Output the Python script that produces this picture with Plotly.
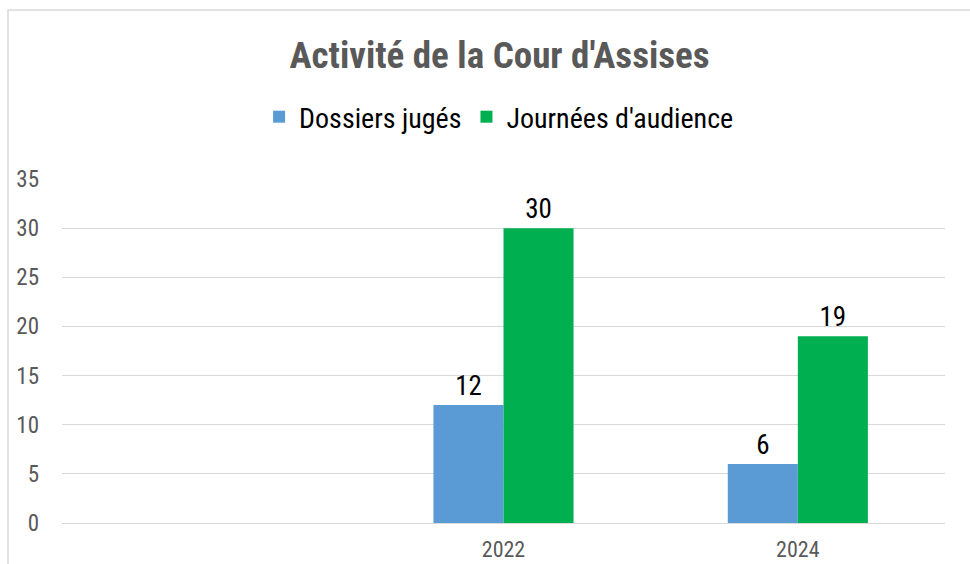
import plotly.graph_objects as go

categories = ["", "2022", "2024"]
dossiers = [None, 12, 6]
journees = [None, 30, 19]
series_names = ["Dossiers jugés", "Journées d'audience"]
colors = ["#5B9BD5", "#00B050"]
y_ticks = [0, 5, 10, 15, 20, 25, 30, 35]

FONT = "Roboto Condensed, Liberation Sans Narrow, Roboto, sans-serif"
x_pos = list(range(len(categories)))

fig = go.Figure()
for name, vals, col in zip(series_names, [dossiers, journees], colors):
    fig.add_trace(go.Bar(
        x=x_pos, y=vals, name=name, marker=dict(color=col, line=dict(width=0)),
        text=[("" if v is None else str(v)) for v in vals],
        textposition="outside", cliponaxis=False,
        textfont=dict(family=FONT, size=27, color="#000000"),
    ))

fig.update_layout(
    width=970, height=564,
    paper_bgcolor="white", plot_bgcolor="white",
    margin=dict(l=62, r=25, t=179, b=41, autoexpand=False),
    barmode="group", bargap=0.524, bargroupgap=0,
    font=dict(family=FONT, color="#595959"),
    title=dict(text="<b>Activité de la Cour d'Assises</b>", x=0.515, xanchor="center",
               y=1 - 55 / 564, yanchor="middle", yref="container", automargin=False,
               font=dict(family=FONT, size=37, color="#595959")),
    legend=dict(orientation="h", x=0.495, xanchor="center", y=(523 - 117) / 344, yanchor="middle",
                font=dict(family=FONT, size=28, color="#000000"),
                itemwidth=30, traceorder="normal", bgcolor="rgba(0,0,0,0)"),
    showlegend=True,
    xaxis=dict(range=[-0.5, 2.5], tickvals=x_pos, ticktext=categories,
               showgrid=False, zeroline=False, showline=False, automargin=False,
               ticks="", ticklabelstandoff=11,
               tickfont=dict(family=FONT, size=22, color="#595959")),
    yaxis=dict(range=[0, 35], tickvals=y_ticks, showgrid=True, gridcolor="#D9D9D9",
               gridwidth=1, zeroline=True, zerolinecolor="#D9D9D9", zerolinewidth=1,
               showline=False, ticks="", ticklabelstandoff=22, automargin=False,
               tickfont=dict(family=FONT, size=23, color="#595959")),
    shapes=[dict(type="rect", xref="paper", yref="paper",
                 x0=(8 - 62) / 883, x1=(990 - 62) / 883,
                 y0=(523 - 600) / 344, y1=(523 - 10) / 344,
                 line=dict(color="#D9D9D9", width=1.5), fillcolor="rgba(0,0,0,0)",
                 layer="below")],
)

fig.write_html("out.html", config={"displayModeBar": False},
               post_script="document.body.style.margin='0';document.body.style.overflow='hidden';")
